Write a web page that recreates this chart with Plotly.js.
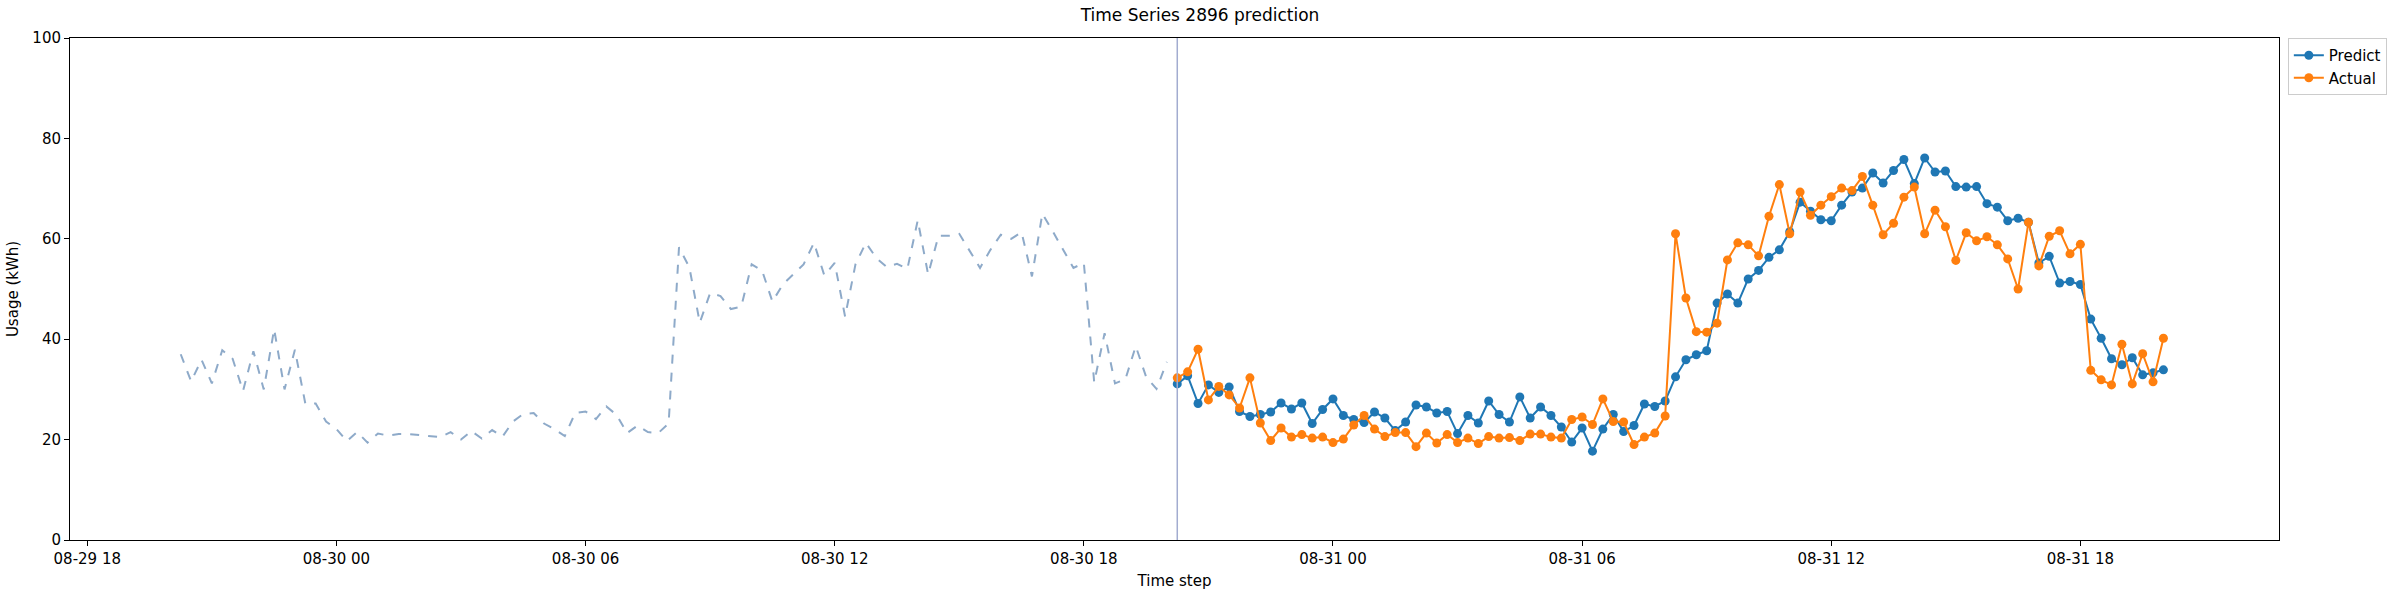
<!DOCTYPE html>
<html>
<head>
<meta charset="utf-8">
<script src="https://cdn.plot.ly/plotly-3.0.1.min.js"></script>
<style>body{margin:0;background:#fff}#plot{width:2400px;height:600px}</style>
</head>
<body>
<div id="plot"></div>
<script>
// history (dashed), 15 min steps ending 08-30 20:00
var histValues = [37.0,31.6,35.9,31.2,37.8,36.1,29.7,37.6,30.0,42.0,
  30.0,37.9,27.2,27.2,23.6,22.1,19.7,21.5,19.4,21.2,
  20.8,21.1,21.1,20.9,20.6,20.5,21.5,20.0,21.7,20.2,
  21.9,20.6,23.6,25.1,25.3,23.2,22.1,20.7,25.3,25.6,
  24.1,26.6,24.9,21.3,22.8,21.5,21.3,23.2,58.3,54.3,
  43.3,49.2,48.6,46.0,46.5,54.9,53.7,47.5,
  50.9,52.9,54.9,59.2,52.7,55.2,44.5,54.9,59.2,56.2,
  54.4,55.0,54.0,63.7,52.9,60.6,60.6,61.0,57.5,54.2,
  57.8,60.8,60.0,61.3,52.5,65.0,61.5,57.8,54.2,55.2,
  31.4,41.2,31.2,32.0,38.6,32.5,30.1,35.5];

// forecast window, starts 08-30 20:15
var predict = [31.1,32.7,27.2,30.9,29.4,30.5,25.6,24.6,25.0,25.5,
  27.3,26.1,27.3,23.2,26.0,28.1,24.8,24.0,23.4,25.5,
  24.3,21.8,23.5,26.9,26.5,25.3,25.6,21.2,24.8,23.3,
  27.7,25.0,23.5,28.5,24.3,26.5,24.8,22.5,19.5,22.3,
  17.7,22.1,25.0,21.6,
  22.8,27.1,26.6,27.7,32.5,35.9,36.9,37.7,47.2,49.0,
  47.2,52.0,53.7,56.3,57.8,61.4,67.3,65.5,63.8,63.6,
  66.7,69.3,70.1,73.1,71.1,73.6,75.8,71.0,76.1,73.3,
  73.5,70.4,70.3,70.4,67.0,66.3,63.6,64.1,63.3,55.2,
  56.5,51.2,51.5,50.9,44.0,40.2,36.1,34.9,36.3,32.9,
  33.3,33.9];

var actual = [32.3,33.5,38.0,27.9,30.6,28.9,26.3,32.3,23.3,19.8,
  22.3,20.5,21.0,20.3,20.5,19.4,20.1,22.9,24.8,22.1,
  20.6,21.4,21.4,18.6,21.3,19.3,21.0,19.4,20.3,19.2,
  20.6,20.3,20.4,19.8,21.1,21.1,20.5,20.3,24.0,24.5,
  23.0,28.1,23.6,23.5,
  19.0,20.5,21.3,24.7,61.0,48.2,41.5,41.4,43.2,55.8,
  59.2,58.8,56.6,64.5,70.8,61.0,69.3,64.7,66.7,68.4,
  70.1,69.6,72.4,66.7,60.8,63.1,68.3,70.3,61.0,65.7,
  62.4,55.7,61.2,59.6,60.4,58.8,56.0,50.0,63.3,54.6,
  60.5,61.6,57.0,58.9,33.8,31.9,30.9,39.0,31.1,37.1,
  31.5,40.2];

var tickText = ['08-29 18','08-30 00','08-30 06','08-30 12','08-30 18','08-31 00','08-31 06','08-31 12','08-31 18'];
var tickVals = ['2023-08-29 18:00','2023-08-30 00:00','2023-08-30 06:00','2023-08-30 12:00','2023-08-30 18:00','2023-08-31 00:00','2023-08-31 06:00','2023-08-31 12:00','2023-08-31 18:00'];

function pad(n) { return (n < 10 ? '0' : '') + n; }
function times(startMs, n) {
  var out = [];
  for (var i = 0; i < n; i++) {
    var d = new Date(startMs + i * 15 * 60000);
    out.push(d.getUTCFullYear() + '-' + pad(d.getUTCMonth()+1) + '-' + pad(d.getUTCDate()) + ' ' +
      pad(d.getUTCHours()) + ':' + pad(d.getUTCMinutes()));
  }
  return out;
}
var forecastStart = Date.UTC(2023, 7, 30, 20, 15);
var xHist = times(forecastStart - histValues.length * 15 * 60000, histValues.length);
var xFc = times(forecastStart, predict.length);

var font = {family: 'DejaVu Sans', size: 15, color: '#000'};
var data = [
  {x: xHist, y: histValues, mode: 'lines', showlegend: false,
   line: {color: '#8eaac9', width: 2, dash: 'dash'}},
  {x: xFc, y: predict, name: 'Predict', mode: 'lines+markers',
   line: {color: '#1f77b4', width: 2}, marker: {color: '#1f77b4', size: 9}},
  {x: xFc, y: actual, name: 'Actual', mode: 'lines+markers',
   line: {color: '#ff7f0e', width: 2}, marker: {color: '#ff7f0e', size: 9}}
];
var layout = {
  width: 2400, height: 600,
  margin: {l: 70, r: 121, t: 38, b: 60},
  paper_bgcolor: '#fff', plot_bgcolor: '#fff',
  font: font,
  title: {text: 'Time Series 2896 prediction', font: {family: 'DejaVu Sans', size: 17}, y: 0.975, yanchor: 'middle'},
  xaxis: {
    type: 'date', range: ['2023-08-29 17:35', '2023-08-31 22:47'],
    tickvals: tickVals, ticktext: tickText,
    showgrid: false, zeroline: false, showline: true, mirror: true, linecolor: '#000', linewidth: 1,
    ticks: 'outside', ticklen: 5, tickcolor: '#000',
    title: {text: 'Time step', font: font, standoff: 8}
  },
  yaxis: {
    range: [0, 100], tickvals: [0,20,40,60,80,100],
    showgrid: false, zeroline: false, showline: true, mirror: true, linecolor: '#000', linewidth: 1,
    ticks: 'outside', ticklen: 5, tickcolor: '#000',
    title: {text: 'Usage (kWh)', font: font, standoff: 10}
  },
  shapes: [{type: 'line', xref: 'x', yref: 'paper', x0: xFc[0], x1: xFc[0], y0: 0, y1: 1,
    line: {color: '#a3acd0', width: 1.5}}],
  legend: {x: 1.004, y: 1, xanchor: 'left', yanchor: 'top', bgcolor: '#fff',
    bordercolor: '#ccc', borderwidth: 1, font: font}
};
Plotly.newPlot('plot', data, layout, {displayModeBar: false});
</script>
</body>
</html>
